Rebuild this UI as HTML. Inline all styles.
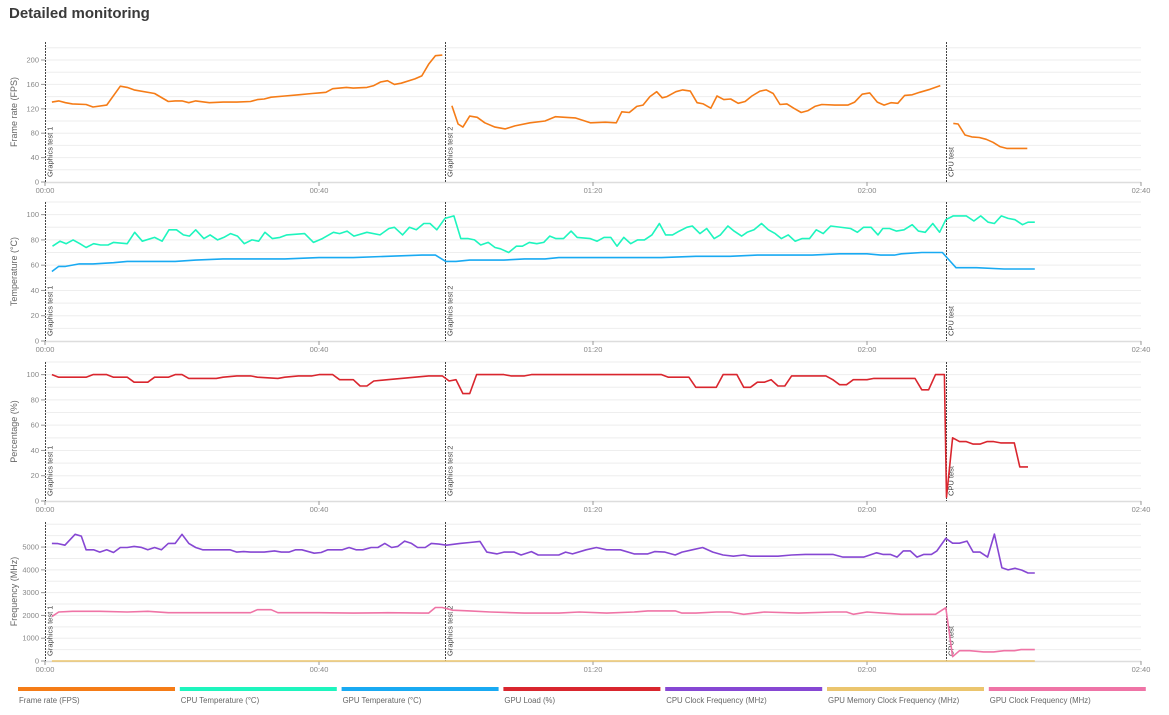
<!DOCTYPE html>
<html><head><meta charset="utf-8"><style>
body{margin:0;background:#fff;width:1169px;height:715px;overflow:hidden;font-family:"Liberation Sans",sans-serif}
#title{position:absolute;left:9px;top:5px;font-size:15px;font-weight:bold;color:#3a3a3a}
svg{position:absolute;left:0;top:0}
text{font-family:"Liberation Sans",sans-serif}
</style></head><body>
<div id="title">Detailed monitoring</div>
<svg id="chart" width="1169" height="715"></svg>
<script>
// ---- data ----
const markerTimes=[0,58.4,131.5];
const markerLabels=["Graphics test 1","Graphics test 2","CPU test"];
const xTickLabels=["00:00","00:40","01:20","02:00","02:40"];
const xTickValues=[0,40,80,120,160];

const fpsT1=[1,2,3,4,6,7,9,11,12,13,16,18,19,20,21,22,24,26,28,30,31,32,33,35,37,39,40,41,42,44,45,47,48,49,50,51,52,54,55,56,57,58];
const fpsV1=[131,133,130,128,127,123,126,157,155,151,145,132,133,133,130,133,130,131,131,132,135,136,139,141,143,145,146,147,153,155,154,155,158,164,166,160,162,169,174,193,207,208];
const fpsT2=[59.4,60.3,61.0,62.0,63.1,64.2,65.7,67.2,68.6,70.8,73.0,74.5,75.9,77.4,79.6,81.8,83.4,84.2,85.3,86.4,87.3,88.3,89.3,90.1,90.8,92.1,93.1,94.2,95.2,96.1,97.2,98.1,99.1,100.1,101.2,102.2,103.2,104.4,105.3,106.3,107.3,108.3,109.3,110.4,111.4,112.4,113.4,115.3,117.2,118.2,119.3,120.4,121.5,122.5,123.5,124.5,125.5,126.6,127.7,129.2,130.7];
const fpsV2=[125,95,90,108,106,97,90,87,92,97,100,107,106,105,97,98,97,115,114,124,126,140,148,138,140,148,151,149,130,128,121,141,135,136,129,132,141,149,151,145,127,128,121,114,117,124,127,126,126,131,144,146,131,126,130,129,142,143,147,152,158];
const fpsT3=[132.6,133.3,134.3,135.3,136.4,137.4,138.4,139.4,140.4,141.5,143.4];
const fpsV3=[96,95,77,74,73,70,65,58,55,55,55];

const cpuTempT=[1.1,2.2,3.1,4.1,5.1,6.0,7.1,8.1,9.2,10.0,12.0,13.1,14.2,16.0,17.1,18.1,19.2,20.2,21.1,22.0,23.2,24.1,25.2,26.1,27.1,28.1,29.1,30.2,31.2,32.1,33.2,34.3,35.3,37.9,39.2,40.5,42.1,43.0,44.1,45.1,47.0,48.9,50.2,51.0,52.2,53.2,54.2,55.3,56.2,57.2,58.4,59.7,60.7,61.8,62.7,63.6,64.7,65.7,66.5,67.7,68.8,69.7,70.7,71.8,72.8,73.7,74.6,75.7,76.8,77.7,79.6,80.6,81.6,82.6,83.5,84.5,85.5,86.5,87.5,88.6,89.7,90.6,91.6,92.6,93.7,94.5,95.6,96.6,97.7,98.6,99.7,100.6,101.7,102.5,103.5,104.6,105.6,106.6,107.5,108.5,109.5,110.5,111.6,112.6,113.6,114.7,117.6,118.6,119.5,120.6,121.6,122.3,123.3,124.3,125.4,126.6,127.5,128.5,129.6,130.6,131.5,132.6,134.5,135.6,136.6,137.7,138.6,139.6,140.6,141.6,142.7,143.5,144.5];
const cpuTempV=[75,79,77,80,77,74,77,76,76,78,77,86,79,82,79,88,88,84,83,88,81,84,80,82,85,83,77,80,79,86,81,82,84,85,78,81,86,85,87,83,86,84,89,90,84,90,88,93,93,88,97,99,81,81,80,76,78,74,73,70,75,75,78,77,78,83,81,81,87,82,81,79,82,82,75,82,77,80,80,84,93,84,84,87,90,91,85,89,81,84,91,87,83,86,88,93,88,85,81,84,79,81,81,88,85,91,89,86,90,90,84,89,89,87,88,92,87,86,93,86,96,99,99,95,99,94,93,99,97,96,92,94,94];
const gpuTempT=[1,2,3,5,7,10,12,15,19,22,26,30,35,40,45,50,55,57,58.5,60,62,64,67,70,73,75,78,85,90,95,100,104,108,112,116,118,120,122,124,125,128,131,132,133,136,140,144.5];
const gpuTempV=[55,59,59,61,61,62,63,63,63,64,65,65,65,66,66,67,68,68,63,63,64,64,64,65,65,66,66,66,66,67,67,68,68,68,69,69,69,68,68,69,70,70,64,58,58,57,57];

const loadT=[1,2,4,6,7,9,10,12,13,15,16,18,19,20,21,25,26,28,30,31,34,35,37,39,40,42,43,45,46,47,48,50,52,54,56,58,59,60,61,62,63,67,68,70,71,90,91,94,95,98,99,101,102,103,104,105,106,107,108,109,114,115,116,117,118,120,121,127,128,129,130,131.3,131.6,132.5,133.5,134.5,135.5,136.5,137.5,138.5,139.5,140.5,141.5,142.3,143.5];
const loadV=[100,98,98,98,100,100,98,98,94,94,98,98,100,100,97,97,98,99,99,98,97,98,99,99,100,100,96,96,91,91,95,96,97,98,99,99,95,96,85,85,100,100,99,99,100,100,98,98,90,90,100,100,90,90,94,94,96,91,91,99,99,96,92,92,96,96,97,97,88,88,100,100,3,50,47,47,45,45,47,47,46,46,46,27,27];

const cpuClkT=[1,1.9,2.9,4.4,5.3,6,7.1,8,9,10,11,12,13,14,15,16,17,18,19,20,21,22,23,24,27,28,29,30,32,33.5,34.5,35.6,36.6,37.5,39.3,40.3,41.3,43.4,44.4,45.4,46.4,47.6,48.6,49.6,50.6,51.5,52.5,53.5,54.4,55.5,56.4,57.5,58.6,60.6,62,63.5,64.5,66,67,68.5,69.5,71,72,75,76,77,79,80.5,82,84,86,88,89,90.5,92,93,94.5,96,97.5,99,100.5,102,103,105,107,109,111,113,115,116.5,119.5,121.4,122.3,123.4,124.4,125.3,126.3,127.3,128.3,129.4,130.2,131.5,132.5,133.5,134.6,135.5,136.5,137.6,138.6,139.7,140.6,141.6,142.6,143.5,144.5];
const cpuClkV=[5160,5150,5080,5560,5480,4880,4880,4780,4880,4760,4980,4980,5030,4990,4880,4980,4880,5160,5160,5560,5160,4980,4880,4880,4880,4780,4800,4780,4780,4830,4780,4780,4880,4880,4730,4760,4880,4880,4980,4880,4880,4980,4980,5160,4980,5030,5260,5160,4980,4980,5160,5130,5080,5160,5200,5250,4780,4700,4780,4780,4650,4800,4650,4650,4780,4700,4880,4980,4880,4880,4700,4700,4800,4780,4650,4780,4880,4980,4780,4650,4600,4650,4600,4600,4600,4650,4680,4680,4680,4560,4560,4750,4680,4680,4560,4830,4830,4560,4680,4680,4830,5380,5170,5170,5260,4780,4780,4560,5570,4090,4000,4070,3990,3860,3860];
const gpuMemT=[1,144.5];
const gpuMemV=[0,0];
const gpuClkT=[1,2,4,8,12,15,18,22,28,30,31,33,34,40,45,50,55,56,57,58,59.5,62,65,70,75,78,82,86,88,92,93,95,98,100,102,105,110,115,117,118,120,125,130,131.5,132.5,133.5,135,137,138.5,140,141.5,142.5,144.5];
const gpuClkV=[1950,2150,2180,2180,2150,2180,2120,2120,2120,2120,2250,2250,2120,2120,2100,2120,2100,2100,2350,2350,2230,2200,2150,2100,2100,2150,2100,2150,2200,2200,2100,2100,2150,2150,2050,2150,2100,2150,2150,2050,2150,2050,2050,2340,190,450,450,400,400,450,450,500,500];

const legendLabels=["Frame rate (FPS)","CPU Temperature (°C)","GPU Temperature (°C)","GPU Load (%)","CPU Clock Frequency (MHz)","GPU Memory Clock Frequency (MHz)","GPU Clock Frequency (MHz)"];
const legendColors=["#f57c17","#1ef5be","#19aaf2","#d9262e","#8647d3","#ebc56e","#ef74a6"];

// ---- rendering ----
const NS="http://www.w3.org/2000/svg";
const svg=document.getElementById('chart');
function mk(tag,attrs,parent){const e=document.createElementNS(NS,tag);for(const k in attrs)e.setAttribute(k,attrs[k]);(parent||svg).appendChild(e);return e;}
const X0=45,X1=1141,TMAX=160;
const xs=t=>X0+(X1-X0)*t/TMAX;

const panels=[
 {name:"fps",top:42,bottom:182,max:229.5,tick:40,tickMax:200,minor:20,title:"Frame rate (FPS)",series:[[fpsT1,fpsV1,0],[fpsT2,fpsV2,0],[fpsT3,fpsV3,0]]},
 {name:"temperature",top:202,bottom:341,max:110,tick:20,tickMax:100,minor:10,title:"Temperature (°C)",series:[[cpuTempT,cpuTempV,1],[gpuTempT,gpuTempV,2]]},
 {name:"load",top:362,bottom:501,max:110,tick:20,tickMax:100,minor:10,title:"Percentage (%)",series:[[loadT,loadV,3]]},
 {name:"frequency",top:522,bottom:661,max:6100,tick:1000,tickMax:5000,minor:500,title:"Frequency (MHz)",series:[[gpuMemT,gpuMemV,5],[cpuClkT,cpuClkV,4],[gpuClkT,gpuClkV,6]]}
];
panels.forEach(p=>{
  const g=mk('g',{});
  
  
  const ys=v=>p.bottom-(p.bottom-p.top)*v/p.max;
  for(let v=p.minor;v<=p.max;v+=p.minor){
    const gl=mk('line',{x1:X0,x2:X1,y1:ys(v),y2:ys(v),stroke:'#eeeeee','stroke-width':1},g);
    
    
  }
  for(let v=0;v<=p.tickMax;v+=p.tick){
    const tk=mk('line',{x1:X0-4,x2:X0,y1:ys(v),y2:ys(v),stroke:'#999'},g);
    
    
    const tl=mk('text',{x:X0-6,y:ys(v)+2.5,'text-anchor':'end','font-size':7.5,fill:'#888'},g);
    
    
    tl.textContent=v;
  }
  const ax=mk('line',{x1:X0,x2:X1,y1:p.bottom+0.5,y2:p.bottom+0.5,stroke:'#ddd','stroke-width':1.5},g);
  
  
  xTickValues.forEach((t,i)=>{
    const tk=mk('line',{x1:xs(t),x2:xs(t),y1:p.bottom,y2:p.bottom+4,stroke:'#999'},g);
    
    
    const tl=mk('text',{x:xs(t),y:p.bottom+11,'text-anchor':'middle','font-size':7.5,fill:'#888'},g);
    
    
    tl.textContent=xTickLabels[i];
  });
  const cy=(p.top+p.bottom)/2;
  const tt=mk('text',{x:17,y:cy,'text-anchor':'middle','font-size':9,fill:'#666',transform:`rotate(-90 17 ${cy})`},g);
  
  
  tt.textContent=p.title;
  markerTimes.forEach((t,i)=>{
    const x=Math.round(xs(t))+0.5;
    const ml=mk('line',{x1:x,x2:x,y1:p.top,y2:p.bottom,stroke:'#444','stroke-width':1,'stroke-dasharray':'2,1'},g);
    
    
    const lx=x+7,ly=p.bottom-5;
    const mt=mk('text',{x:lx,y:ly,'font-size':7.5,fill:'#444',transform:`rotate(-90 ${lx} ${ly})`},g);
    
    
    mt.textContent=markerLabels[i];
  });
  p.series.forEach(([T,V,ci])=>{
    const pts=T.map((t,i)=>xs(t).toFixed(1)+','+ys(V[i]).toFixed(1)).join(' ');
    const pl=mk('polyline',{points:pts,fill:'none',stroke:legendColors[ci],'stroke-width':1.6,'stroke-linejoin':'round'},g);
    
    
  });
});
// legend
const lx0=18,lw=157,lstep=161.8;
legendLabels.forEach((lab,i)=>{
  const x=lx0+i*lstep;
  const g=mk('g',{});
  
  
  mk('rect',{x:x,y:687,width:lw,height:4,fill:legendColors[i]},g);
  const t=mk('text',{x:x+1,y:703,'font-size':7.8,fill:'#666'},g);
  t.textContent=lab;
});
</script>
</body></html>
